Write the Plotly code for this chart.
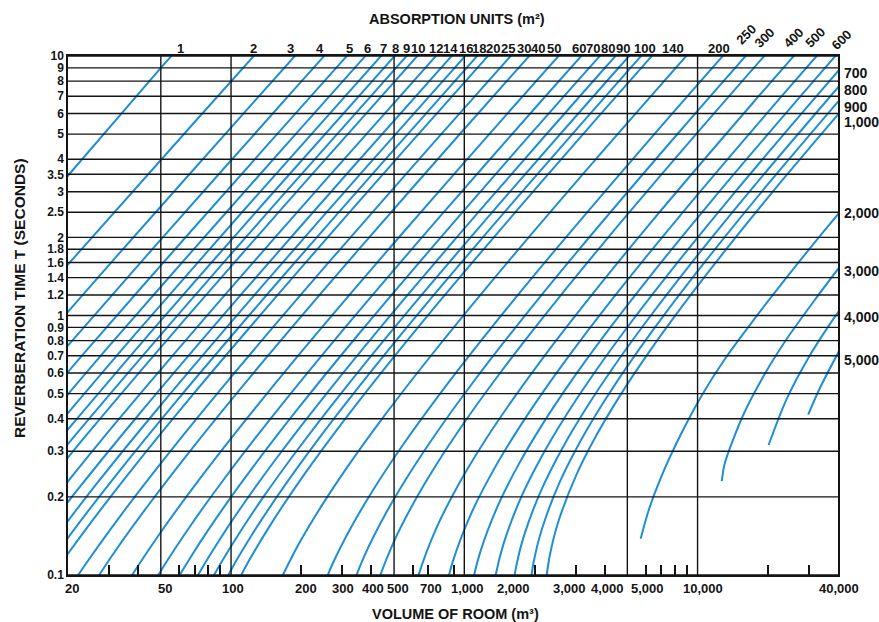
import plotly.graph_objects as go

# ---------------- data ----------------
absorption = [1, 2, 3, 4, 5, 6, 7, 8, 9, 10, 12, 14, 16, 18, 20, 25, 30, 40, 50, 60, 70, 80, 90, 100,
              140, 200, 250, 300, 400, 500, 600, 700, 800, 900, 1000, 2000, 3000, 4000, 5000]

curve_volume = [
    [18, 50, 58],
    [17.21, 68.04, 192.45],
    [11.18, 31.62, 125.0, 353.6],
    [17.21, 48.69, 192.45, 544.3],
    [8.505, 24.06, 68.04, 268.95, 760.7],
    [11.18, 31.62, 89.44, 353.55, 1000],
    [14.09, 39.85, 112.7, 445.5],
    [17.21, 48.69, 137.7, 544.3],
    [11.18, 20.54, 58.09, 164.3, 649.5],
    [13.09, 24.06, 68.04, 192.45, 760.7],
    [17.21, 31.62, 89.44, 253.0, 1000],
    [14.09, 21.69, 39.85, 112.7, 318.8, 1260],
    [17.21, 26.50, 48.69, 137.7, 389.5, 1540],
    [14.70, 20.54, 31.62, 58.09, 164.3, 464.8, 1837],
    [13.10, 17.21, 24.06, 37.04, 68.04, 192.45, 544.3, 2152],
    [18.30, 24.06, 33.62, 51.76, 95.09, 268.95, 760.7, 3007],
    [24.06, 31.62, 44.19, 68.04, 125.0, 353.55, 1000, 3953],
    [29.39, 37.04, 48.69, 68.04, 104.8, 192.4, 544.3, 1540, 6086],
    [41.08, 51.76, 68.04, 95.09, 146.4, 268.95, 760.7, 2152, 8505],
    [44.19, 54.00, 68.04, 89.44, 125.0, 192.45, 353.55, 1000, 2828, 11180],
    [55.69, 68.04, 85.74, 112.7, 157.5, 242.5, 445.5, 1260, 3564, 14089],
    [68.04, 83.13, 104.8, 137.7, 192.45, 296.3, 544.3, 1540, 4355, 17213],
    [81.19, 99.20, 125.0, 164.3, 229.6, 353.55, 649.5, 1837, 5196, 20540],
    [95.09, 116.2, 146.4, 192.45, 268.95, 414.1, 760.7, 2152, 6086, 24056],
    [157.5, 192.45, 242.5, 318.8, 445.5, 685.9, 1260, 3564, 10081],
    [225.4, 268.95, 328.6, 414.1, 544.3, 760.7, 1171, 2152, 6086, 17213],
    [290.5, 315.0, 375.9, 459.2, 578.7, 760.7, 1063, 1637, 3007, 8505, 24056],
    [381.8, 414.1, 494.1, 603.7, 760.7, 1000, 1398, 2152, 3953, 11180, 31622],
    [587.9, 637.5, 760.7, 929.4, 1171, 1540, 2152, 3313, 6086, 17213, 48686],
    [821.6, 891.0, 1063, 1299, 1637, 2152, 3007, 4630, 8505, 24056, 68042],
    [1031, 1080, 1171, 1398, 1708, 2152, 2828, 3953, 6086, 11180, 31623, 89443],
    [1299, 1361, 1476, 1761, 2152, 2711, 3564, 4981, 7669, 14088, 39849, 112710],
    [1587, 1663, 1803, 2152, 2629, 3313, 4355, 6086, 9370, 17213, 48687],
    [1894, 1984, 2152, 2567, 3137, 3953, 5196, 7262, 11180, 20539, 58095],
    [2218, 2324, 2520, 3007, 3674, 4630, 6086, 8505, 13095, 24056, 68043],
    [5700, 6200, 7000, 8505, 10392, 13095, 17213, 24056, 37037, 68039],
    [12700, 13094, 15624, 19090, 24056, 31621, 44192],
    [20160, 24055, 29391, 37037, 48685],
    [29800, 33618, 41076],
]

curve_time = [
    [3.1, 9.0, 10.45],
    [1.351, 5.422, 15.41],
    [0.5694, 1.654, 6.640, 18.88],
    [0.6575, 1.910, 7.667, 21.80],
    [0.2455, 0.7351, 2.136, 8.572, 24.37],
    [0.2689, 0.8053, 2.339, 9.391, 26.70],
    [0.2905, 0.8698, 2.527, 10.14],
    [0.3105, 0.9299, 2.701, 10.84],
    [0.1682, 0.3293, 0.9862, 2.865, 11.50],
    [0.1773, 0.3472, 1.040, 3.020, 12.12],
    [0.1942, 0.3803, 1.139, 3.308, 13.28],
    [0.1269, 0.2098, 0.4108, 1.230, 3.573, 14.34],
    [0.1356, 0.2243, 0.4391, 1.315, 3.820, 15.34],
    [0.0948, 0.1438, 0.2379, 0.4658, 1.395, 4.052, 16.27],
    [0.0690, 0.0999, 0.1516, 0.2507, 0.4910, 1.470, 4.271, 17.14],
    [0.0772, 0.1117, 0.1695, 0.2803, 0.5489, 1.644, 4.775, 19.17],
    [0.0845, 0.1224, 0.1857, 0.3071, 0.6013, 1.801, 5.231, 21.00],
    [0.0688, 0.0976, 0.1414, 0.2144, 0.3546, 0.6943, 2.079, 6.040, 24.25],
    [0.0769, 0.1091, 0.1580, 0.2397, 0.3965, 0.7763, 2.325, 6.753, 27.11],
    [0.0589, 0.0842, 0.1195, 0.1731, 0.2626, 0.4343, 0.8504, 2.547, 7.398, 29.70],
    [0.0637, 0.0910, 0.1291, 0.1870, 0.2837, 0.4691, 0.9185, 2.751, 7.991, 32.08],
    [0.0681, 0.0973, 0.1380, 0.1999, 0.3032, 0.5015, 0.9819, 2.941, 8.542, 34.29],
    [0.0722, 0.1032, 0.1464, 0.2120, 0.3216, 0.5319, 1.042, 3.119, 9.061, 36.37],
    [0.0761, 0.1087, 0.1543, 0.2235, 0.3390, 0.5607, 1.098, 3.288, 9.551, 38.34],
    [0.0900, 0.1287, 0.1826, 0.2644, 0.4012, 0.6634, 1.299, 3.890, 11.30],
    [0.0709, 0.1076, 0.1538, 0.2182, 0.3161, 0.4795, 0.7929, 1.553, 4.649, 13.51],
    [0.0593, 0.0793, 0.1203, 0.1719, 0.2440, 0.3534, 0.5361, 0.8865, 1.736, 5.198, 15.10],
    [0.0650, 0.0869, 0.1318, 0.1883, 0.2673, 0.3871, 0.5872, 0.9711, 1.902, 5.694, 16.54],
    [0.0750, 0.1003, 0.1522, 0.2175, 0.3087, 0.4470, 0.6781, 1.121, 2.196, 6.575, 19.10],
    [0.0839, 0.1121, 0.1701, 0.2431, 0.3451, 0.4997, 0.7581, 1.254, 2.455, 7.351, 21.36],
    [0.0693, 0.0919, 0.1228, 0.1864, 0.2663, 0.3780, 0.5474, 0.8305, 1.373, 2.689, 8.053, 23.39],
    [0.0748, 0.0993, 0.1327, 0.2013, 0.2877, 0.4083, 0.5913, 0.8970, 1.483, 2.905, 8.698, 25.27],
    [0.0800, 0.1061, 0.1418, 0.2152, 0.3075, 0.4365, 0.6321, 0.9589, 1.586, 3.105, 9.299],
    [0.0849, 0.1125, 0.1504, 0.2283, 0.3262, 0.4630, 0.6704, 1.017, 1.682, 3.293, 9.862],
    [0.0894, 0.1186, 0.1586, 0.2406, 0.3438, 0.4880, 0.7067, 1.072, 1.773, 3.472, 10.40],
    [0.138, 0.18, 0.24, 0.35, 0.49, 0.68, 0.95, 1.40, 2.26, 4.27],
    [0.23, 0.27, 0.41, 0.58, 0.81, 1.14, 1.70],
    [0.317, 0.475, 0.67, 0.93, 1.31],
    [0.415, 0.53, 0.75],
]

x_tick_text = ["20", "50", "100", "200", "300", "400", "500", "700", "1,000", "2,000", "3,000",
               "4,000", "5,000", "10,000", "40,000"]
x_minor_ticks = [30, 40, 60, 70, 80, 90, 200, 300, 400, 600, 700, 900, 2000, 3000, 4000,
                 6000, 7000, 8000, 9000, 20000, 30000]
x_grid_values = [50, 100, 500, 1000, 5000, 10000]
y_tick_values = [0.1, 0.2, 0.3, 0.4, 0.5, 0.6, 0.7, 0.8, 0.9, 1, 1.2, 1.4, 1.6, 1.8, 2, 2.5, 3,
                 3.5, 4, 5, 6, 7, 8, 9, 10]
y_tick_text = ["0.1", "0.2", "0.3", "0.4", "0.5", "0.6", "0.7", "0.8", "0.9", "1", "1.2", "1.4",
               "1.6", "1.8", "2", "2.5", "3", "3.5", "4", "5", "6", "7", "8", "9", "10"]

top_labels = ["1", "2", "3", "4", "5", "6", "7", "8", "9", "10", "12", "14", "16", "18", "20", "25",
              "30", "40", "50", "60", "70", "80", "90", "100", "140", "200"]
top_labels_rot = ["250", "300", "400", "500", "600"]
right_labels = ["700", "800", "900", "1,000", "2,000", "3,000", "4,000", "5,000"]

# ---------------- layout helpers (pixel positions of text) ----------------
X0, X1, Y0, Y1 = 68, 838, 56, 575
def px(x):
    return (x - X0) / (X1 - X0)
def py(y):
    return (Y1 - y) / (Y1 - Y0)

x_label_px = [72, 165, 233, 306, 343, 373, 398, 431, 467, 513, 569, 607, 647, 703, 839]
top_label_px = [180, 253, 290, 320, 349, 367, 383, 395, 406, 418, 436, 450, 466, 479, 493, 508,
                524, 538, 554, 579, 593, 608, 623, 645, 673, 719]
top_rot_px = [(746, 34), (765, 38), (794, 38), (815, 37), (842, 40)]
right_label_py = [73, 90, 107, 122, 213, 271, 317, 360]

BLUE = "#1e8fd6"
INK = "#141414"
FONT = "Liberation Sans"

fig = go.Figure()
for a, vs, ts in zip(absorption, curve_volume, curve_time):
    fig.add_trace(go.Scatter(x=vs, y=ts, mode="lines", name=str(a),
                             line=dict(color=BLUE, width=2, shape="spline", smoothing=0.8),
                             hoverinfo="skip", showlegend=False))

# grid lines drawn on top of the curves
gx, gy = [], []
for v in x_grid_values:
    gx += [v, v, None]
    gy += [0.1, 10, None]
for t in y_tick_values:
    gx += [20, 40000, None]
    gy += [t, t, None]
fig.add_trace(go.Scatter(x=gx, y=gy, mode="lines", line=dict(color=INK, width=1.4),
                         hoverinfo="skip", showlegend=False))

fig.update_xaxes(type="log", range=[1.30103, 4.60206], showticklabels=False,
                 ticks="", showgrid=False, zeroline=False, showline=True,
                 linecolor=INK, linewidth=1.5, mirror=True,
                 minor=dict(tickvals=x_minor_ticks, ticks="inside", ticklen=10, tickwidth=1.5,
                            tickcolor=INK, showgrid=False))
fig.update_yaxes(type="log", range=[-1, 1], tickvals=y_tick_values, ticktext=y_tick_text,
                 ticks="", showgrid=False, zeroline=False, showline=True, linecolor=INK,
                 linewidth=1.5, mirror=True,
                 tickfont=dict(family=FONT, size=12, color=INK, weight="bold"))

ann = []
for t, x in zip(x_tick_text, x_label_px):
    ann.append(dict(text=t, x=px(x), y=py(588), xref="paper", yref="paper", showarrow=False,
                    xanchor="center", yanchor="middle",
                    font=dict(family=FONT, size=13, color=INK, weight="bold")))
for t, x in zip(top_labels, top_label_px):
    ann.append(dict(text=t, x=px(x), y=py(48), xref="paper", yref="paper", showarrow=False,
                    xanchor="center", yanchor="middle",
                    font=dict(family=FONT, size=13, color=INK, weight="bold")))
for t, (x, y) in zip(top_labels_rot, top_rot_px):
    ann.append(dict(text=t, x=px(x), y=py(y), xref="paper", yref="paper", showarrow=False,
                    xanchor="center", yanchor="middle", textangle=-45,
                    font=dict(family=FONT, size=13, color=INK, weight="bold")))
for t, y in zip(right_labels, right_label_py):
    ann.append(dict(text=t, x=px(842), y=py(y), xref="paper", yref="paper", showarrow=False,
                    xanchor="left", yanchor="middle",
                    font=dict(family=FONT, size=14, color=INK, weight="bold")))
ann.append(dict(text="ABSORPTION UNITS (m²)", x=px(457), y=py(19), xref="paper", yref="paper",
                showarrow=False, xanchor="center", yanchor="middle",
                font=dict(family=FONT, size=14.5, color=INK, weight="bold")))
ann.append(dict(text="VOLUME OF ROOM (m³)", x=px(456), y=py(614), xref="paper", yref="paper",
                showarrow=False, xanchor="center", yanchor="middle",
                font=dict(family=FONT, size=14.5, color=INK, weight="bold")))
ann.append(dict(text="REVERBERATION TIME T (SECONDS)", x=px(19), y=py(298), xref="paper",
                yref="paper", showarrow=False, xanchor="center", yanchor="middle", textangle=-90,
                font=dict(family=FONT, size=15.5, color=INK, weight="bold")))

fig.update_layout(width=879, height=622, margin=dict(l=68, r=41, t=56, b=47),
                  paper_bgcolor="white", plot_bgcolor="white", annotations=ann,
                  showlegend=False, hovermode=False)

fig.write_html("out.html")
